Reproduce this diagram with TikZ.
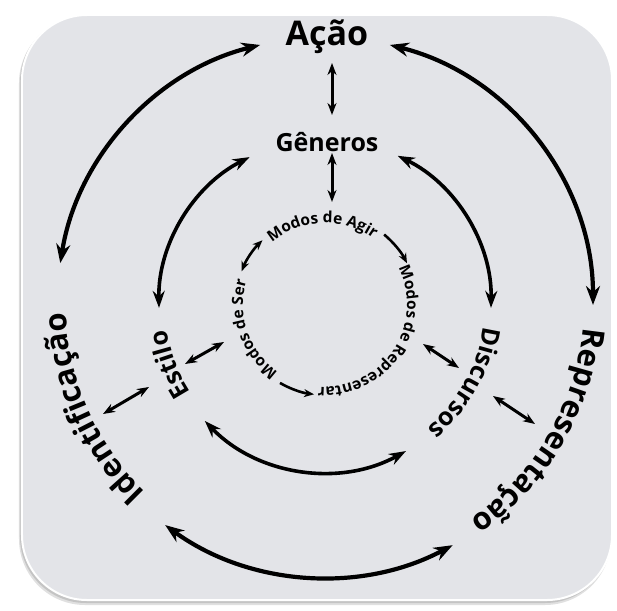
\documentclass[tikz,border=0pt]{standalone}
\usepackage{fontspec}
\setmainfont{Open Sans}
\usetikzlibrary{arrows.meta,decorations.text}

\definecolor{cardgray}{RGB}{227,228,232}
\newcommand{\topfont}{\bfseries\fontsize{34}{36}\selectfont}
\newcommand{\outerfont}{\bfseries\fontsize{31}{33}\selectfont}
\newcommand{\midfont}{\bfseries\fontsize{25}{27}\selectfont}
\newcommand{\innerfont}{\bfseries\fontsize{15.5}{17}\selectfont}

\begin{document}
\begin{tikzpicture}[>=Stealth,x=1pt,y=1pt,
 ring/.style={decorate,decoration={text along path,text align=center,text={#1}}},
 bigarc/.style={<->,line width=4.2pt,>={Stealth[length=19pt,width=14pt]}},
 midarc/.style={<->,line width=3.6pt,>={Stealth[length=17pt,width=12pt]}},
 link/.style={<->,line width=3pt,>={Stealth[length=12pt,width=9pt]}},
 innerlink/.style={line width=2.6pt,>={Stealth[length=10pt,width=8pt]}},
 lab/.style={inner sep=0pt,font=#1}]
\useasboundingbox (-325,-305) rectangle (292,305);
\fill[white] (-325,-305) rectangle (292,305);
% card
\fill[black,opacity=0.12,rounded corners=66pt] (-306,-300) rectangle (286,288);
\fill[black,opacity=0.12,rounded corners=66pt] (-305,-298) rectangle (286,289);
\fill[cardgray,draw=white,line width=2pt,rounded corners=65pt] (-303,-295) rectangle (287,290);

% labels
\node[lab=\topfont] (acao) at (2,268) {Ação};
\node[lab=\midfont] (generos) at (2,163) {Gêneros};
\path[ring={|\outerfont|Identificação}] (244:259) arc[start angle=244,end angle=164,radius=259];
\path[ring={|\outerfont|Representação}] (10:259) arc[start angle=10,end angle=-71,radius=259];
\path[ring={|\midfont|Estilo}] (241:160) arc[start angle=241,end angle=161,radius=160];
\path[ring={|\midfont|Discursos}] (11:160) arc[start angle=11,end angle=-69,radius=160];
\path[ring={|\innerfont|Modos de Agir}] (132:82) arc[start angle=132,end angle=52,radius=82];
\path[ring={|\innerfont|Modos de Representar}] (25:82) arc[start angle=25,end angle=-93,radius=82];
\path[ring={|\innerfont|Modos de Ser}] (238:82) arc[start angle=238,end angle=160,radius=82];

% outer ring
\coordinate (o1) at (104:268);
\coordinate (o2) at (76:268);
\coordinate (o3) at (234:272);
\draw[bigarc] (o1) arc[start angle=104,end angle=171,radius=268];
\draw[bigarc] (o2) arc[start angle=76,end angle=0,radius=268];
\draw[bigarc] (o3) arc[start angle=234,end angle=298,radius=272];

% middle ring
\coordinate (m1) at (117:166);
\coordinate (m2) at (64:166);
\coordinate (m3) at (224:167);
\draw[midarc] (m1) arc[start angle=117,end angle=181,radius=166];
\draw[midarc] (m2) arc[start angle=64,end angle=-1,radius=166];
\draw[midarc] (m3) arc[start angle=224,end angle=299,radius=167];

% inner ring
\coordinate (i1) at (158:90);
\coordinate (i2) at (50:92);
\coordinate (i3) at (240:90);
\draw[innerlink,<->] (i1) arc[start angle=158,end angle=134,radius=90];
\draw[innerlink,->] (i2) arc[start angle=50,end angle=27,radius=92];
\draw[innerlink,->] (i3) arc[start angle=240,end angle=263,radius=90];

% links between rings
\coordinate (a1) at (7,242);  \coordinate (a2) at (7,190);
\coordinate (g1) at (7,152);  \coordinate (g2) at (7,103);
\coordinate (e1) at (-140,-59); \coordinate (e2) at (-101,-37);
\coordinate (d1) at (-222,-109); \coordinate (d2) at (-176,-82);
\coordinate (k1) at (98,-39); \coordinate (k2) at (134,-63);
\coordinate (r1) at (168,-91); \coordinate (r2) at (210,-119);
\draw[link] (a1) -- (a2);
\draw[link] (g1) -- (g2);
\draw[link] (e1) -- (e2);
\draw[link] (d1) -- (d2);
\draw[link] (k1) -- (k2);
\draw[link] (r1) -- (r2);
\end{tikzpicture}
\end{document}
